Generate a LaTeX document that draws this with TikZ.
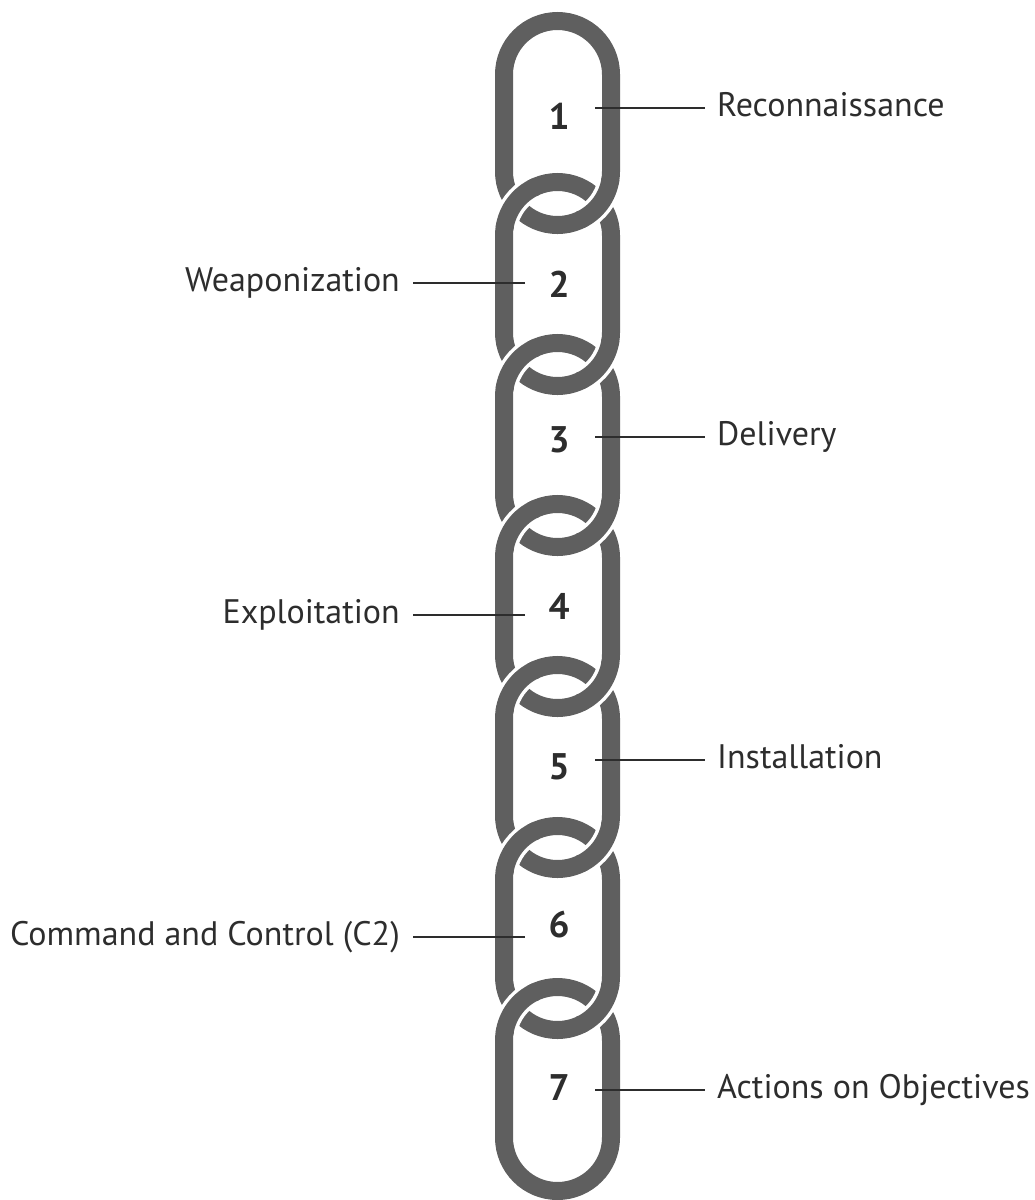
\documentclass[tikz,border=0pt]{standalone}
\usepackage{fontspec}
\setmainfont{PT Sans}
\definecolor{linkgray}{RGB}{95,95,95}
\definecolor{ink}{RGB}{45,45,45}
\begin{document}
\begin{tikzpicture}[x=1pt,y=1pt,
  chainlink/.style={draw=linkgray,line width=18pt},
  overcase/.style={draw=white,line width=25pt},
  overlink/.style={draw=linkgray,line width=18pt},
  num/.style={font=\fontsize{37}{40}\selectfont\bfseries,text=ink,inner sep=0pt},
  lbl/.style={font=\fontsize{34}{40}\selectfont,text=ink,inner sep=0pt,text height=23.5pt,text depth=0pt},
  leader/.style={draw=ink,line width=1.8pt}]
\useasboundingbox (0,0) rectangle (1035,-1200);
\def\cx{557.5}
% full links
\foreach \k in {0,...,6}{
  \pgfmathsetmacro\ytop{-(21+161*\k)}
  \pgfmathsetmacro\ybot{-(225+161*\k)}
  \draw[chainlink,rounded corners=53.5pt] (\cx-53.5,\ytop) rectangle (\cx+53.5,\ybot);
}
% interlocking over-segments
\foreach \k in {0,...,5}{
  \pgfmathsetmacro\yB{-(171.5+161*\k)}
  \pgfmathsetmacro\yT{-(235.5+161*\k)}
  \coordinate (B) at (\cx,\yB);
  \coordinate (T) at (\cx,\yT);
  \draw[overcase] (T) ++(168.3:53.5) arc[start angle=168.3,end angle=118.3,radius=53.5];
  \draw[overlink] (T) ++(172:53.5) arc[start angle=172,end angle=114,radius=53.5];
  \draw[overcase] (B) ++(-61.7:53.5) arc[start angle=-61.7,end angle=-11.7,radius=53.5];
  \draw[overlink] (B) ++(-65:53.5) arc[start angle=-65,end angle=-8,radius=53.5];
}
% numbers
\node[num] (n1) at (559,-116) {1};
\node[num] (n2) at (559,-284) {2};
\node[num] (n3) at (559,-440) {3};
\node[num] (n4) at (559,-606) {4};
\node[num] (n5) at (559,-767) {5};
\node[num] (n6) at (559,-925) {6};
\node[num] (n7) at (559,-1088) {7};
% labels right
\coordinate (r1) at (595,-108);
\coordinate (r3) at (595,-437);
\coordinate (r5) at (595,-760);
\coordinate (r7) at (595,-1090);
\node[lbl,anchor=west] (reco) at (717,-105) {Reconnaissance};
\node[lbl,anchor=west] (deli) at (717,-434) {Delivery};
\node[lbl,anchor=west] (inst) at (717,-757) {Installation};
\node[lbl,anchor=west] (acti) at (717,-1087) {Actions on Objectives};
\draw[leader,shorten >=12pt] (r1) -- (r1 -| reco.west);
\draw[leader,shorten >=12pt] (r3) -- (r3 -| deli.west);
\draw[leader,shorten >=12pt] (r5) -- (r5 -| inst.west);
\draw[leader,shorten >=12pt] (r7) -- (r7 -| acti.west);
% labels left
\coordinate (l2) at (525,-283);
\coordinate (l4) at (525,-615);
\coordinate (l6) at (525,-937);
\node[lbl,anchor=east] (weap) at (400,-280) {Weaponization};
\node[lbl,anchor=east] (expl) at (400,-612) {Exploitation};
\node[lbl,anchor=east] (comm) at (400,-934) {Command and Control (C2)};
\draw[leader,shorten >=13pt] (l2) -- (l2 -| weap.east);
\draw[leader,shorten >=13pt] (l4) -- (l4 -| expl.east);
\draw[leader,shorten >=13pt] (l6) -- (l6 -| comm.east);
\end{tikzpicture}
\end{document}
